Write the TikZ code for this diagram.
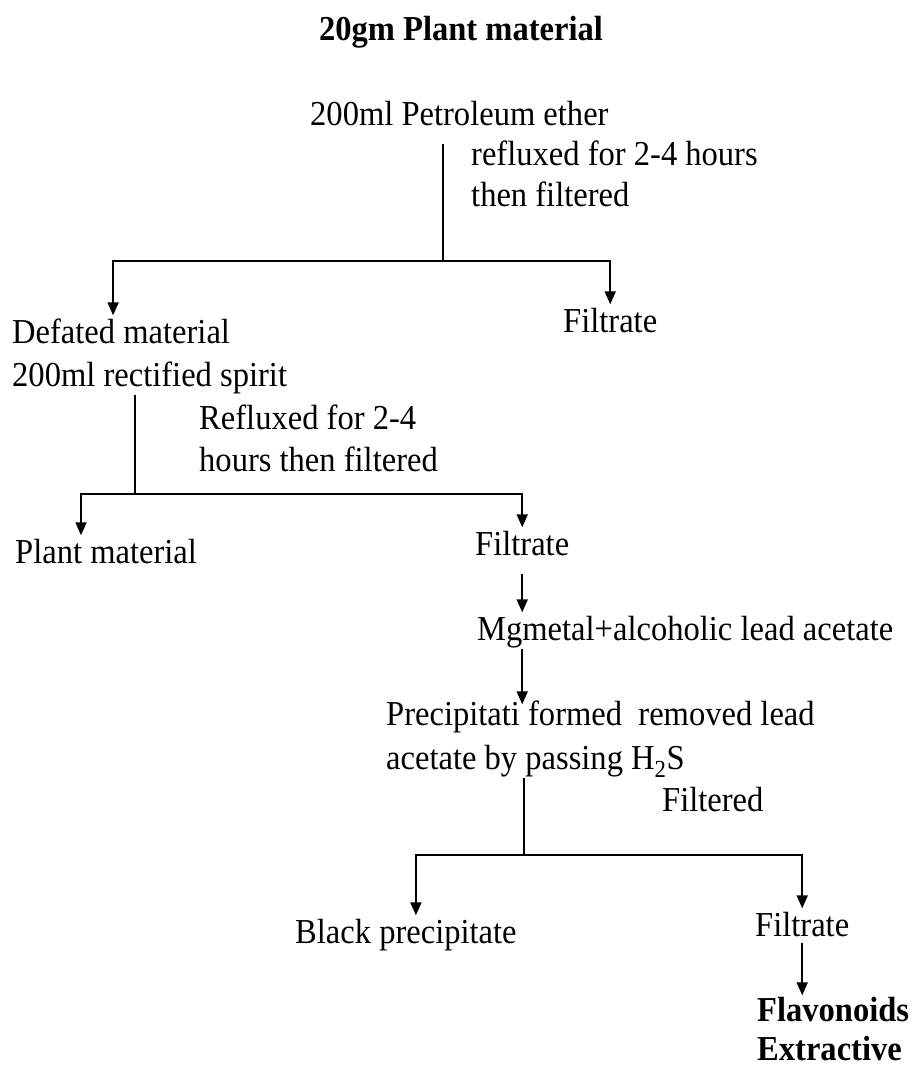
\documentclass[tikz,border=0pt]{standalone}
\usepackage{fontspec}
\setmainfont{Liberation Serif}[FakeStretch=0.93]
\usetikzlibrary{arrows.meta, positioning}
\tikzset{
every node/.style={inner sep=0pt, anchor=west, font=\fontsize{35}{44}\selectfont,
    text height=25pt, text depth=8pt},
heading/.style={font=\fontsize{35}{44}\selectfont\bfseries},
stem/.style={line width=1.8pt},
bar/.style={line width=2.6pt},
flow/.style={-{Triangle[length=13pt,width=11pt]}, line width=1.8pt, shorten >=3pt},
}

\begin{document}
\begin{tikzpicture}[x=1pt, y=-1pt]
    \useasboundingbox (0,0) rectangle (913,1070);

    % first extraction
    \node[heading, anchor=center] (title) at (461,32) {20gm Plant material};
    \node (pet) at (310,117) {200ml Petroleum ether};
    \node (refa) at (471,157) {refluxed for 2-4 hours};
    \node (refb) at (471,198) {then filtered};
    \coordinate (j1) at (443,261);
    \node (defat) at (12,335) {Defated material};
    \node (filta) at (563,324) {Filtrate};

    % second extraction
    \node (spirit) at (12,378) {200ml rectified spirit};
    \node (refc) at (199,421) {Refluxed for 2-4};
    \node (refd) at (199,463) {hours then filtered};
    \coordinate (j2) at (135,494);
    \node (plant) at (15,555) {Plant material};
    \node (filtb) at (475,547) {Filtrate};
    \node (mg) at (477,632) {Mgmetal+alcoholic lead acetate};

    % lead acetate step
    \node (preca) at (386,717) {Precipitati formed\ \ removed lead};
    \node (precb) at (386,761) {acetate by passing H\textsubscript{2}S};
    \node (filtd) at (662,803) {Filtered};
    \coordinate (j3) at (524,855);
    \node (black) at (295,935) {Black precipitate};
    \node (filtc) at (755,928) {Filtrate};
    \node[heading] (flava) at (757,1013) {Flavonoids};
    \node[heading] (flavb) at (757,1052) {Extractive};

    \draw[stem, shorten <=10pt] (pet.south -| j1) -- (j1);
    \draw[flow] (j1) -| ([xshift=-8pt]defat.north);
    \draw[flow] (j1) -| (filta.north);
    \draw[bar] ([xshift=-8pt]defat.north |- j1) -- (filta.north |- j1);

    \draw[stem] (spirit.south -| j2) -- (j2);
    \draw[flow] (j2) -| ([xshift=-25pt]plant.north);
    \draw[flow] (j2) -| (filtb.north);
    \draw[bar] ([xshift=-25pt]plant.north |- j2) -- (filtb.north |- j2);
    \draw[flow, shorten <=10pt] (filtb.south) -- (filtb.south |- mg.north);
    \draw[flow, shorten >=-4pt] (filtb.south |- mg.south) -- (filtb.south |- preca.north);

    \draw[stem] (precb.south -| j3) -- (j3);
    \draw[flow] (j3) -| ([xshift=10pt]black.north);
    \draw[flow] (j3) -| (filtc.north);
    \draw[bar] ([xshift=10pt]black.north |- j3) -- (filtc.north |- j3);
    \draw[flow, shorten <=-2pt, shorten >=1pt] (filtc.south) -- (filtc.south |- flava.north);
\end{tikzpicture}
\end{document}
